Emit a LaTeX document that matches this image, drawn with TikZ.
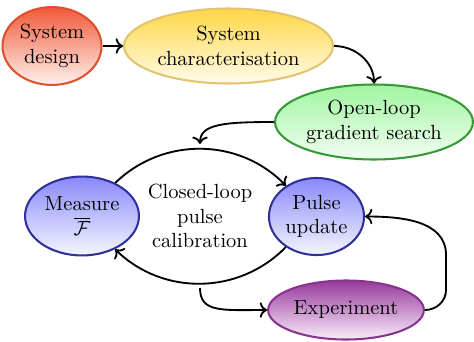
\documentclass[tikz,border=0pt]{standalone}
\usetikzlibrary{shapes.geometric,arrows.meta}
\definecolor{sdT}{RGB}{242,88,56}
\definecolor{sdBo}{RGB}{222,80,46}
\definecolor{sdBt}{RGB}{255,242,238}
\definecolor{chT}{RGB}{255,214,70}
\definecolor{chBo}{RGB}{226,196,112}
\definecolor{chBt}{RGB}{255,252,235}
\definecolor{olT}{RGB}{160,245,160}
\definecolor{olBo}{RGB}{52,152,52}
\definecolor{olBt}{RGB}{242,255,242}
\definecolor{blT}{RGB}{136,136,250}
\definecolor{blBo}{RGB}{48,48,154}
\definecolor{blBt}{RGB}{246,246,255}
\definecolor{exT}{RGB}{150,56,156}
\definecolor{exBo}{RGB}{136,52,142}
\definecolor{exBt}{RGB}{250,238,250}
\begin{document}
\begin{tikzpicture}[x=0.488pt,y=0.488pt,
  blob/.style={ellipse, line width=1pt, inner sep=0pt, align=center},
  conn/.style={line width=0.9pt,->}]
\useasboundingbox (0,0) rectangle (474,-341);
\node[blob, draw=sdBo, top color=sdT, bottom color=sdBt, minimum width=48.3pt, minimum height=38pt] (design) at (52,-46) {System\\design};
\node[blob, draw=chBo, top color=chT, bottom color=chBt, minimum width=102pt, minimum height=36.6pt] (char) at (228.5,-46) {System\\characterisation};
\node[blob, draw=olBo, top color=olT, bottom color=olBt, minimum width=96.6pt, minimum height=36.6pt] (open) at (374,-122) {Open-loop\\gradient search};
\node[blob, draw=blBo, top color=blT, bottom color=blBt, minimum width=55.6pt, minimum height=38.5pt] (measure) at (82,-216) {Measure\\$\overline{\mathcal{F}}$};
\node[blob, draw=blBo, top color=blT, bottom color=blBt, minimum width=46.4pt, minimum height=37.6pt] (pulse) at (316.5,-216.5) {Pulse\\update};
\node[blob, draw=exBo, top color=exT, bottom color=exBt, minimum width=76pt, minimum height=28.8pt] (exp) at (346,-310) {Experiment};
\node[align=center] (closed) at (200,-216) {Closed-loop\\pulse\\calibration};
\coordinate (ctop) at (200,-144);
\coordinate (cbot) at (200,-288);
\coordinate (r1) at (446,-290);
\coordinate (r2) at (446,-255);
\draw[conn] (design) -- (char);
\draw[conn] (char.east) to[out=0,in=90] (open.north);
\draw[conn] (open.west) .. controls +(-50,0) and +(0,20) .. (ctop);
\draw[conn] (measure) to[bend left=45] (pulse);
\draw[conn] (pulse) to[bend left=45] (measure);
\draw[conn] (cbot) .. controls +(0,-25) and +(-45,0) .. (exp.west);
\draw[conn] (exp.east) to[out=0,in=-90] (r1) -- (r2) to[out=90,in=0] (pulse.east);
\end{tikzpicture}
\end{document}
